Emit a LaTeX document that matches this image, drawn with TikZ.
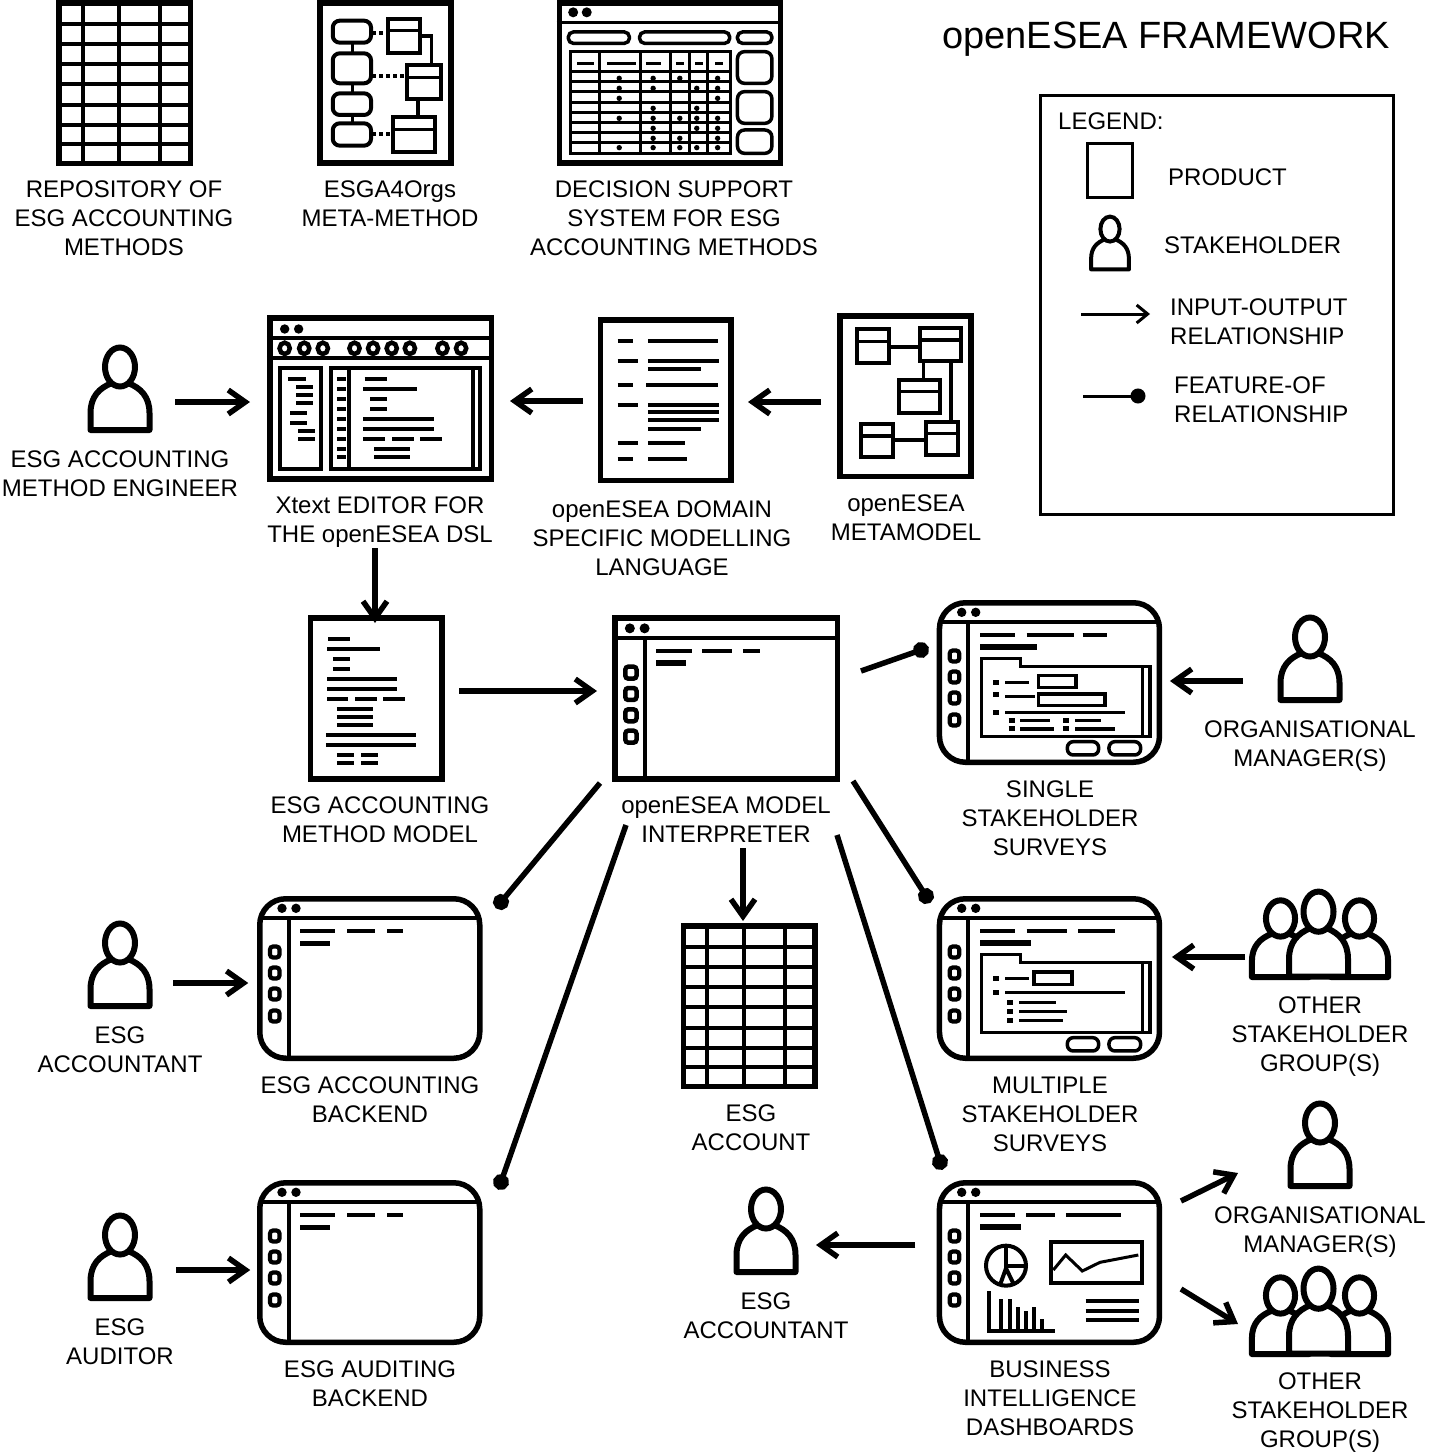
\documentclass[tikz,border=0pt]{standalone}
\usepackage{fontspec}
\setmainfont{Liberation Sans}
\usetikzlibrary{arrows.meta,calc}
\tikzset{
  x=1pt,y=-1pt,
  frameA/.style={draw=black,fill=white,line width=5.5pt,inner sep=0pt,outer sep=0pt,rectangle},
  frameR/.style={frameA,rounded corners=26pt},
  ghost/.style={inner sep=0pt,outer sep=0pt,rectangle},
  lbl/.style={font=\fontsize{24}{29}\selectfont,align=center,inner sep=0pt,anchor=south},
  lbll/.style={font=\fontsize{24}{29}\selectfont,align=left,inner sep=0pt,anchor=south west},
  arr/.style={line width=5.5pt,-{Straight Barb[length=17pt,width=24pt,line width=5.5pt]}},
  feat/.style={line width=5.5pt,-{Circle[length=16pt,width=16pt,sep=-8pt]}},
  thin3/.style={line width=3pt},
  med/.style={line width=3.5pt},
  dsh/.style={line width=4pt},
  dshb/.style={line width=6pt},
  dshs/.style={line width=5pt},
  pill/.style={line width=3.5pt,rounded corners=6pt}
}
% helper: a list of dashes x1/x2/y
\newcommand\dashlist[2]{\foreach \da/\db/\dc in {#2}{\draw[#1] (\da,\dc) -- (\db,\dc);}}
\newcommand\iconframe[6]{%
  \pgfmathsetmacro\fcx{(#2+#4)/2}\pgfmathsetmacro\fcy{(#3+#5)/2}%
  \pgfmathsetmacro\fw{#4-#2-5.5}\pgfmathsetmacro\fh{#5-#3-5.5}%
  \node[#6,minimum width=\fw pt,minimum height=\fh pt] (#1) at (\fcx,\fcy) {};}
\newcommand\lab[4]{\node[lbl] (#1) at (#2,#3+14.1) {#4\rule[-5.5pt]{0pt}{5.5pt}};}
\newcommand\labl[4]{\node[lbll] (#1) at (#2,#3+14.1) {#4\rule[-5.5pt]{0pt}{5.5pt}};}
% person body and head: centre x, head top, x scale, y scale, line width
\newcommand\personshape[5]{%
  \begin{scope}[shift={(#1,#2)},xscale=#3,yscale=#4]
    \draw[draw=black,fill=white,line width=#5pt,line join=round]
      (-29.5,85) -- (-29.5,68) .. controls (-29.5,52) and (-21,43) .. (-8,38)
      -- (8,38) .. controls (21,43) and (29.5,52) .. (29.5,68) -- (29.5,85) -- cycle;
    \draw[draw=black,fill=white,line width=#5pt] (0,22) ellipse [x radius=15,y radius=19.5];
  \end{scope}}
\newcommand\person[3]{%
  \node[ghost,minimum width=64pt,minimum height=88pt,anchor=north] (#1) at (#2,#3) {};
  \personshape{#2}{#3}{1}{1}{6}}
\newcommand\group[3]{%
  \node[ghost,minimum width=138pt,minimum height=91pt,anchor=north] (#1) at (#2,#3) {};
  \personshape{#2-38}{#3+9}{.97}{.93}{6}
  \personshape{#2+41}{#3+9}{.97}{.93}{6}
  \personshape{#2}{#3}{1}{1.03}{6}}
% spreadsheet icon with top-left corner x,y
\newcommand\sheet[3]{%
  \iconframe{#1}{#2}{#3}{#2+137}{#3+166}{frameA}
  \begin{scope}[shift={(#2,#3)}]
    \foreach \v in {26.5,63,104}{\draw[dsh] (\v,3) -- (\v,163);}
    \foreach \h in {23.5,43.5,63.5,84,105,125,143.5}{\draw[dsh] (3,\h) -- (134,\h);}
  \end{scope}}
% rounded window with top-left corner x,y
\newcommand\window[3]{%
  \iconframe{#1}{#2}{#3}{#2+225.5}{#3+165}{frameR}
  \begin{scope}[shift={(#2,#3)}]
    \draw[dsh] (2.5,22.3) -- (223,22.3);
    \draw[dsh] (31.6,22.3) -- (31.6,162.5);
    \fill (25,12.3) circle[radius=4.7pt] (39,12.3) circle[radius=4.7pt];
    \foreach \o in {56,77,98,120}{\draw[line width=4.2pt,rounded corners=3pt] (13,\o-5.5) rectangle (22.5,\o+5.5);}
  \end{scope}}
\newcommand\formshell{%
  \draw[med] (155,190) -- (272,190) -- (272,215) -- (660,215) -- (660,425) -- (155,425) -- cycle;
  \draw[med] (637,215) -- (637,425);
  \draw[pill] (412,440) rectangle (506,480);
  \draw[pill] (537,440) rectangle (632,480);}
\begin{document}
\begin{tikzpicture}
\useasboundingbox (0,0) rectangle (1440,1456);

% ===== top row
\sheet{repo}{56}{0}
\iconframe{meta4}{317}{0}{453.5}{165.7}{frameA}
\begin{scope}[shift={(40,0)},x=.4847pt,y=-.3333pt]
  \foreach \a/\b in {62/128,160/250,280/345,370/437}{\draw[line width=4pt,rounded corners=7pt] (604,\a) rectangle (683,\b);}
  \foreach \a/\b in {128/160,250/280,345/370}{\draw[med] (645,\a) -- (645,\b);}
  \foreach \xa/\xb/\ya/\yb/\ym in {717/785/57/160/92,757/827/195/297/232,728/815/350/455/388}{
    \draw[line width=4pt] (\xa,\ya) rectangle (\xb,\yb);
    \draw[med] (\xa,\ym) -- (\xb,\ym);}
  \draw[med] (785,108) -- (808,108) -- (808,195);
  \draw[med] (780,297) -- (780,350);
  \foreach \ya/\xb in {98/717,227/757,403/728}{\draw[line width=3.8pt,dash pattern=on 4pt off 3pt] (685,\ya) -- (\xb,\ya);}
\end{scope}
\iconframe{dss}{556.7}{0}{783}{165.7}{frameA}
\begin{scope}[shift={(40,0)},x=.4847pt,y=-.3333pt]
  \draw[line width=3.5pt] (1066,68) -- (1533,68);
  \fill (1100,37) circle[radius=5pt] (1128,37) circle[radius=5pt];
  \foreach \a/\b in {1090/1216,1237/1423,1439/1510}{\draw[line width=3.5pt,rounded corners=5pt] (\a,96) rectangle (\b,130);}
  \draw[line width=3.5pt] (1094,155) rectangle (1425,460);
  \draw[thin3] (1094,215) -- (1425,215);
  \foreach \h in {245,275,307,338,368,398,428}{\draw[thin3] (1094,\h) -- (1425,\h);}
  \foreach \v in {1155,1238,1300,1340,1378}{\draw[thin3] (\v,155) -- (\v,460);}
  \dashlist{thin3}{1108/1142/190,1170/1230/190,1250/1282/190,1312/1328/190,1352/1368/190,1393/1410/190}
  \foreach \dx/\dy in {1195/235,1265/235,1320/235,1398/235,1195/265,1265/265,1355/265,1398/265,1195/295,1398/295,1265/325,1355/325,1195/355,1265/355,1320/355,1355/355,1398/355,1265/385,1355/385,1398/385,1265/415,1320/415,1398/415,1195/443,1265/443,1320/443,1355/443,1398/443}{\fill (\dx,\dy) circle[radius=2.7pt];}
  \foreach \a/\b in {155/250,275/370,390/460}{\draw[line width=3.5pt,rounded corners=7pt] (1439,\a) rectangle (1510,\b);}
\end{scope}
\lab{lrepo}{124}{247}{REPOSITORY OF\\ESG ACCOUNTING\\METHODS}
\lab{lmeta4}{390}{218}{ESGA4Orgs\\META-METHOD}
\lab{ldss}{674}{247}{DECISION SUPPORT\\SYSTEM FOR ESG\\ACCOUNTING METHODS}
\node[font=\fontsize{38}{44}\selectfont,inner sep=0pt] (title) at (1166,39) {openESEA FRAMEWORK};

% ===== legend
\node[draw=black,line width=3pt,inner sep=0pt,outer sep=0pt,minimum width=353pt,minimum height=419pt] (legend) at (1217,305) {};
\labl{llegend}{1058}{121}{LEGEND:}
\node[draw=black,fill=white,line width=3pt,inner sep=0pt,outer sep=0pt,minimum width=45pt,minimum height=54pt] (legprod) at (1110,170.5) {};
\labl{lprod}{1168}{177}{PRODUCT}
\node[ghost,minimum width=41pt,minimum height=56pt,anchor=north] (legpers) at (1110,215) {};
\personshape{1110}{215}{.64}{.64}{4}
\labl{lstake}{1164}{245}{STAKEHOLDER}
\coordinate (lega) at (1081,314);
\coordinate (legb) at (1150,314);
\draw[line width=3pt,-{Straight Barb[length=11pt,width=18pt,line width=3pt]}] (lega) -- (legb);
\labl{lio}{1170}{336}{INPUT-OUTPUT\\RELATIONSHIP}
\coordinate (legc) at (1083,396);
\coordinate (legd) at (1138,396);
\draw[line width=3pt,-{Circle[length=15pt,width=15pt,sep=-7.5pt]}] (legc) -- (legd);
\labl{lfo}{1174}{414}{FEATURE-OF\\RELATIONSHIP}

% ===== second row
\person{engineer}{120}{345}
\lab{lengineer}{120}{488}{ESG ACCOUNTING\\METHOD ENGINEER}
\iconframe{editor}{267}{315}{494}{481.7}{frameA}
\begin{scope}[shift={(260,310)},x=.4655pt,y=-.3333pt]
  \draw[dsh] (15,85) -- (503,85);
  \draw[dsh] (15,145) -- (503,145);
  \fill (53,57) circle[radius=4.7pt] (83,57) circle[radius=4.7pt];
  \foreach \c in {53,95,135,203,243,283,322,392,432}{\draw[line width=4.5pt] (\c,115) ellipse[x radius=11,y radius=17];}
  \draw[line width=4pt] (43,175) rectangle (130,478);
  \draw[line width=4pt] (152,175) rectangle (473,478);
  \draw[line width=4pt] (192,175) -- (192,478);
  \draw[med] (458,175) -- (458,478);
  \dashlist{dsh}{60/98/207,78/114/231,78/114/255,78/114/279,65/102/309,65/102/339,82/118/363,82/118/387}
  \foreach \g in {207,237,267,297,327,357,387,417,441}{\draw[dsh] (165,\g) -- (185,\g);}
  \dashlist{dsh}{225/272/207,222/337/237,237/272/267,237/272/297,222/374/327,222/374/357,222/268/387,284/330/387,344/390/387,245/322/417,245/322/441}
\end{scope}
\lab{leditor}{380}{534}{Xtext EDITOR FOR\\THE openESEA DSL}
\iconframe{dsl}{597.5}{317}{733.5}{483}{frameA}
\begin{scope}[shift={(260,310)},x=.4655pt,y=-.3333pt]
  \dashlist{dsh}{768/802/92,833/983/92,768/813/152,833/985/152,833/947/177,768/802/224,830/983/224,768/813/285,833/985/285,833/985/307,833/985/331,833/947/356,768/813/398,833/912/398,768/802/446,833/918/446}
\end{scope}
\lab{ldsl}{662}{567}{openESEA DOMAIN\\SPECIFIC MODELLING\\LANGUAGE}
\iconframe{metam}{837}{313}{973.7}{479}{frameA}
\begin{scope}[shift={(260,310)},x=.4655pt,y=-.3333pt]
  \foreach \xa/\xb/\ya/\yb/\ym in {1283/1352/58/160/95,1418/1505/53/153/90,1373/1460/210/310/245,1290/1359/343/440/378,1431/1500/336/434/370}{
    \draw[line width=4pt] (\xa,\ya) rectangle (\xb,\yb);
    \draw[med] (\xa,\ym) -- (\xb,\ym);}
  \draw[dsh] (1352,110) -- (1418,110);
  \draw[med] (1425,153) -- (1425,210);
  \draw[dsh] (1485,153) -- (1485,336);
  \draw[med] (1359,390) -- (1431,390);
\end{scope}
\lab{lmetam}{906}{532}{openESEA\\METAMODEL}

% ===== third row
\iconframe{model}{307.7}{615}{444.5}{781.7}{frameA}
\begin{scope}[shift={(300,610)},x=.3509pt,y=-.3333pt]
  \dashlist{dsh}{80/142/87,77/228/117,94/142/147,94/142/177,77/277/207,77/277/237,77/138/267,157/218/267,237/298/267,105/208/297,105/208/320,105/208/344,74/330/375,74/330/405,105/153/435,174/222/435,105/153/459,174/222/459}
\end{scope}
\lab{lmodel}{380}{834}{ESG ACCOUNTING\\METHOD MODEL}
\iconframe{interp}{612}{615}{840}{781.7}{frameA}
\begin{scope}[shift={(300,610)},x=.3509pt,y=-.3333pt]
  \draw[dsh] (890,85) -- (1538,85);
  \draw[line width=4pt] (983,85) -- (983,515);
  \fill (940,55) circle[radius=5pt] (982,55) circle[radius=5pt];
  \foreach \o in {188,252,316,380}{\draw[line width=4.5pt,rounded corners=3pt] (927,\o-18) rectangle (959,\o+18);}
  \dashlist{dsh}{1015/1117/122,1147/1230/122,1262/1310/122}
  \dashlist{dshb}{1015/1100/158}
\end{scope}
\lab{linterp}{726}{834}{openESEA MODEL\\INTERPRETER}
\window{single}{936.7}{600}
\begin{scope}[shift={(930,595)},x=.3333pt,y=-.3333pt]
  \dashlist{dsh}{150/255/120,290/433/120,458/530/120}
  \dashlist{dshb}{150/320/155}
  \formshell
  \draw[med] (325,241) rectangle (438,277);
  \draw[med] (325,297) rectangle (525,332);
  \dashlist{dshs}{190/208/262,190/208/298,190/208/352,236/254/376,400/418/376,236/254/402,400/418/402}
  \dashlist{med}{226/296/262,226/314/304,226/584/352,271/360/376,436/512/376,271/372/402,436/554/402}
\end{scope}
\lab{lsingle}{1050}{847}{SINGLE\\STAKEHOLDER\\SURVEYS}
\person{orgm}{1310}{615}
\lab{lorgm}{1310}{758}{ORGANISATIONAL\\MANAGER(S)}

% ===== fourth row
\person{acct}{120}{921}
\lab{lacct}{120}{1064}{ESG\\ACCOUNTANT}
\window{backa}{257}{896}
\begin{scope}[shift={(257,896)}]
  \dashlist{dsh}{43/78/35,90/118/35,130/146/35}
  \dashlist{dshs}{43/73/47}
\end{scope}
\lab{lbacka}{370}{1114}{ESG ACCOUNTING\\BACKEND}
\sheet{account}{680.7}{923}
\lab{laccount}{751}{1142}{ESG\\ACCOUNT}
\window{multi}{936.7}{896}
\begin{scope}[shift={(930,891)},x=.3333pt,y=-.3333pt]
  \dashlist{dsh}{150/255/119,290/410/119,445/555/119}
  \dashlist{dshb}{150/302/155}
  \formshell
  \draw[med] (312,243) rectangle (426,280);
  \dashlist{dshs}{190/208/262,190/208/305,232/250/335,232/250/362,232/250/388}
  \dashlist{med}{226/296/262,226/584/305,268/378/335,268/410/362,268/398/388}
\end{scope}
\lab{lmulti}{1050}{1143}{MULTIPLE\\STAKEHOLDER\\SURVEYS}
\group{others}{1318.5}{889}
\lab{lothers}{1320}{1063}{OTHER\\STAKEHOLDER\\GROUP(S)}

% ===== fifth row
\person{auditor}{120}{1213}
\lab{lauditor}{120}{1356}{ESG\\AUDITOR}
\window{backb}{257}{1180}
\begin{scope}[shift={(257,1180)}]
  \dashlist{dsh}{43/78/35,90/118/35,130/146/35}
  \dashlist{dshs}{43/73/47}
\end{scope}
\lab{lbackb}{370}{1398}{ESG AUDITING\\BACKEND}
\person{acct2}{766}{1187}
\lab{lacct2}{766}{1330}{ESG\\ACCOUNTANT}
\window{bi}{936.7}{1180}
\begin{scope}[shift={(930,1175)},x=.3333pt,y=-.3333pt]
  \dashlist{dsh}{150/255/120,288/376/120,408/572/120}
  \dashlist{dshb}{150/272/155}
  \draw[dsh] (228,272) circle[radius=20pt];
  \draw[dsh] (228,212) -- (228,272) -- (293,272);
  \draw[dsh] (210,330) -- (228,280) -- (250,325);
  \draw[dsh] (228,272) -- (228,285);
  \draw[dsh] (363,200) rectangle (635,323);
  \draw[thin3] (370,285) -- (407,240) -- (457,288) -- (510,262) -- (625,240);
  \draw[dsh] (177,348) -- (177,467) -- (376,467);
  \foreach \bx/\by in {213/372,240/372,265/397,288/408,312/397,336/433}{\draw[dsh] (\bx,\by) -- (\bx,467);}
  \dashlist{dsh}{467/628/377,467/628/407,467/628/436}
\end{scope}
\lab{lbi}{1050}{1427}{BUSINESS\\INTELLIGENCE\\DASHBOARDS}
\person{orgm2}{1320}{1101}
\lab{lorgm2}{1320}{1244}{ORGANISATIONAL\\MANAGER(S)}
\group{others2}{1318.5}{1266}
\lab{lothers2}{1320}{1439}{OTHER\\STAKEHOLDER\\GROUP(S)}

% ===== input-output arrows
\draw[arr,shorten <=23pt,shorten >=19.75pt] (engineer.east |- 0,402) -- (editor.west |- 0,402);
\draw[arr,shorten <=17.25pt,shorten >=18.75pt] (dsl.west |- 0,401) -- (editor.east |- 0,401);
\draw[arr,shorten <=18.75pt,shorten >=17.25pt] (metam.west |- 0,402) -- (dsl.east |- 0,402);
\draw[arr,shorten >=-5.25pt] (leditor.south -| 375,0) -- (model.north -| 375,0);
\draw[arr,shorten <=17.25pt,shorten >=17.75pt] (model.east |- 0,691) -- (interp.west |- 0,691);
\draw[arr,shorten <=35pt,shorten >=10.5pt] (orgm.west |- 0,681) -- (single.east |- 0,681);
\draw[arr,shorten <=4.5pt,shorten >=12.5pt] (others.west |- 0,957) -- (multi.east |- 0,957);
\draw[arr,shorten <=21pt,shorten >=11.5pt] (acct.east |- 0,983) -- (backa.west |- 0,983);
\draw[arr,shorten <=24pt,shorten >=9.5pt] (auditor.east |- 0,1270) -- (backb.west |- 0,1270);
\draw[arr,shorten <=24.2pt,shorten >=18pt] (bi.west |- 0,1245) -- (acct2.east |- 0,1245);
\draw[arr,shorten >=4.75pt] (linterp.south -| 743,0) -- (account.north -| 743,0);
\coordinate (bia) at (1181,1201);
\coordinate (orgmin) at (1238,1173);
\coordinate (bib) at (1181,1289);
\coordinate (othin) at (1238,1324);
\draw[arr] (bia) -- (orgmin);
\draw[arr] (bib) -- (othin);

% ===== feature-of connectors
\coordinate (fa) at (861,671);
\coordinate (fae) at (921,650);
\coordinate (fb) at (853,781);
\coordinate (fbe) at (926,896);
\coordinate (fc) at (600,783);
\coordinate (fce) at (501,902);
\coordinate (fd) at (626,825);
\coordinate (fde) at (501,1182);
\coordinate (fe) at (837,835);
\coordinate (fee) at (940,1162);
\draw[feat] (fa) -- (fae);
\draw[feat] (fb) -- (fbe);
\draw[feat] (fc) -- (fce);
\draw[feat] (fd) -- (fde);
\draw[feat] (fe) -- (fee);
\end{tikzpicture}
\end{document}
